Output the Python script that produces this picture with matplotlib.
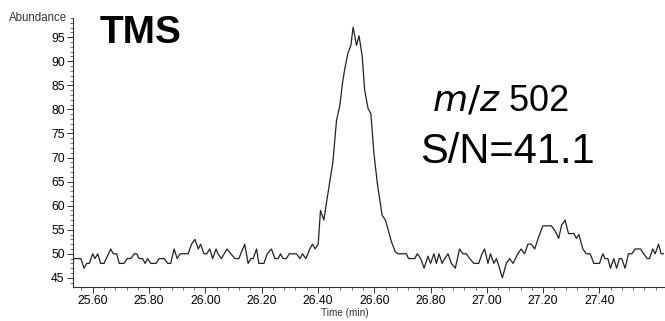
import matplotlib
matplotlib.use("Agg")
import matplotlib.pyplot as plt
from matplotlib.ticker import MultipleLocator

plt.rcParams['font.family'] = ['Liberation Sans', 'DejaVu Sans']

# retention time (min) and abundance
time_min = [25.531, 25.558, 25.569, 25.579, 25.588, 25.600, 25.608, 25.618, 25.628, 25.640,
            25.664, 25.673, 25.685, 25.694, 25.711, 25.723, 25.735, 25.748, 25.756, 25.765,
            25.777, 25.786, 25.795, 25.806, 25.825, 25.836, 25.854, 25.866, 25.877, 25.889,
            25.900, 25.910, 25.939, 25.951, 25.963, 25.975, 25.983, 25.995, 26.005, 26.016,
            26.026, 26.038, 26.045, 26.057, 26.077, 26.091, 26.105, 26.119, 26.140, 26.152,
            26.162, 26.170, 26.182, 26.190, 26.200, 26.208, 26.220, 26.235, 26.247, 26.259,
            26.267, 26.276, 26.288, 26.298, 26.324, 26.336, 26.345, 26.357, 26.371, 26.381,
            26.390, 26.401, 26.409, 26.421, 26.430, 26.442, 26.453, 26.466, 26.478, 26.487,
            26.495, 26.506, 26.517, 26.525, 26.537, 26.546, 26.557, 26.566, 26.578, 26.588,
            26.599, 26.611, 26.628, 26.640, 26.661, 26.675, 26.684, 26.714, 26.722, 26.744,
            26.753, 26.765, 26.777, 26.791, 26.800, 26.812, 26.821, 26.830, 26.841, 26.850,
            26.862, 26.874, 26.888, 26.903, 26.915, 26.927, 26.939, 26.954, 26.971, 26.983,
            26.992, 27.004, 27.013, 27.025, 27.034, 27.045, 27.055, 27.069, 27.081, 27.093,
            27.110, 27.122, 27.134, 27.146, 27.158, 27.170, 27.184, 27.199, 27.229, 27.241,
            27.255, 27.266, 27.278, 27.290, 27.309, 27.318, 27.327, 27.341, 27.353, 27.367,
            27.380, 27.400, 27.412, 27.420, 27.430, 27.439, 27.451, 27.461, 27.471, 27.479,
            27.491, 27.503, 27.515, 27.527, 27.546, 27.557, 27.570, 27.578, 27.589, 27.598,
            27.610, 27.619, 27.631]
abundance = [49, 49, 47, 48, 48, 50, 49, 50, 48, 48,
             51, 50, 50, 48, 48, 49, 49, 50, 50, 49,
             49, 48, 49, 48, 48, 49, 49, 48, 48, 51,
             49, 50, 50, 52, 53, 51, 52, 50, 50, 51,
             49, 51, 50, 49, 51, 50, 49, 49, 52, 48,
             49, 49, 51, 48, 48, 48, 50, 51, 49, 49,
             50, 49, 49, 50, 50, 49, 50, 49, 51, 52,
             51, 52, 59, 57, 60.5, 65, 69, 77.7, 80.9, 85.4,
             88.3, 91.6, 93.3, 97.1, 93.3, 95.3, 91.2, 84, 80.2, 79.1,
             70.8, 64.6, 58, 57, 52.5, 50.4, 50, 50, 49, 49,
             50, 49, 47, 49.5, 48, 50, 48, 50, 48, 49,
             50, 48, 47, 51, 50, 50, 49, 48, 48, 50,
             51, 48, 50, 48, 49, 47, 45, 48, 49, 48,
             50, 51, 50, 52, 52, 51, 53.5, 55.8, 55.8, 54.9,
             53.2, 56, 57, 54.2, 54.2, 53.2, 54, 51, 50, 50,
             48, 48, 50, 49, 49, 47, 49, 47, 49, 49,
             47, 50, 50, 51, 51, 50, 49, 49, 51, 50,
             52, 50, 50]

x_ticks = [25.6, 25.8, 26.0, 26.2, 26.4, 26.6, 26.8, 27.0, 27.2, 27.4]
x_labels = ['25.60', '25.80', '26.00', '26.20', '26.40', '26.60', '26.80', '27.00', '27.20', '27.40']
y_ticks = [45, 50, 55, 60, 65, 70, 75, 80, 85, 90, 95]

fig = plt.figure(figsize=(6.65, 3.21), dpi=100)
ax = fig.add_axes([0.1098, 0.106, 0.889, 0.838])
ax.plot(time_min, abundance, color='#222222', lw=0.9)

ax.set_xlim(25.53, 27.63)
ax.set_ylim(43.1, 99)
ax.set_xticks(x_ticks)
ax.set_xticklabels(x_labels)
ax.xaxis.set_minor_locator(MultipleLocator(0.04))
ax.set_yticks(y_ticks)
ax.yaxis.set_minor_locator(MultipleLocator(1))

for s in ['top', 'right']:
    ax.spines[s].set_visible(False)
for s in ['left', 'bottom']:
    ax.spines[s].set_linewidth(0.8)
    ax.spines[s].set_color('#333333')
ax.tick_params(which='major', length=4, width=0.7, labelsize=8.7, pad=2, colors='#333333', labelcolor='black')
ax.tick_params(which='minor', length=2, width=0.6, colors='#555555')

fig.text(345/665, 1 - 316/321, 'Time (min)', fontsize=7.2, ha='center', va='baseline', color='#333333')
fig.text(67/665, 1 - 21/321, 'Abundance', fontsize=8.3, ha='right', va='baseline', color='#333333')

fig.text(100/665, 1 - 43/321, 'TMS', fontsize=28, fontweight='bold', ha='left', va='baseline')
fig.text(432/665, 1 - 110/321, r'$\mathit{m/z}$ 502', fontsize=26, ha='left', va='baseline')
fig.text(420/665, 1 - 163/321, 'S/N=41.1', fontsize=30, ha='left', va='baseline')

fig.savefig('out.png', dpi=100)
